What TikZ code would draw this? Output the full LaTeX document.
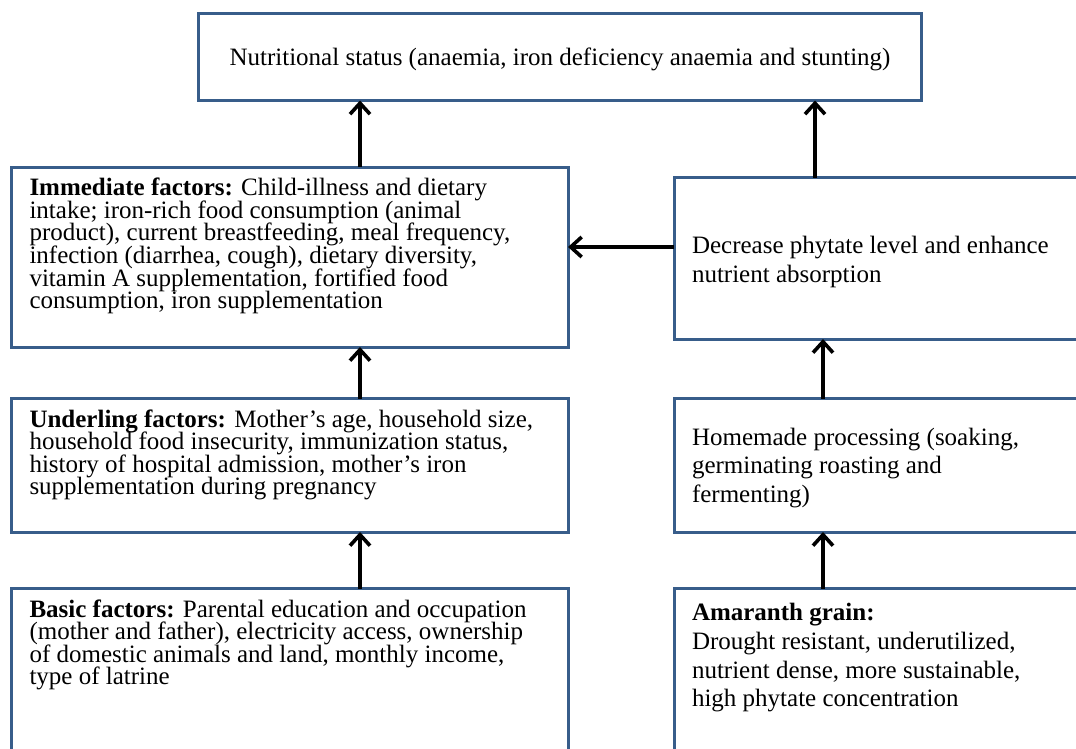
\documentclass[tikz,border=0pt]{standalone}
\usepackage{fontspec}
\setmainfont{Liberation Serif}
\usetikzlibrary{arrows.meta}
\definecolor{boxBlue}{HTML}{385D8A}
\newcommand{\boxtext}[4]{\parbox[c][#2][#1]{#3}{\lineskiplimit=-50pt\raggedright #4}}
\tikzset{
    factorbox/.style={draw=boxBlue,line width=3pt,fill=white,anchor=north west,
        outer sep=0pt,inner xsep=18pt,inner ysep=11pt,
        font=\fontsize{25}{22.6}\selectfont},
    pathbox/.style={factorbox,font=\fontsize{25}{28.7}\selectfont},
    flowarrow/.style={-{Straight Barb[length=11pt,width=20pt]},line width=3.6pt,draw=black}
}

\begin{document}
\begin{tikzpicture}[x=1pt,y=-1pt]
    \useasboundingbox (0,0) rectangle (1076,749);
    \clip (0,0) rectangle (1076,749);
    % outcome
    \node[pathbox,anchor=center,minimum width=723pt,minimum height=86.5pt,
        text height=18pt,text depth=1pt] (status) at (560,57.25)
        {Nutritional status (anaemia, iron deficiency anaemia and stunting)};
    % left column
    \node[factorbox] (immediate) at (11.5,167) {\boxtext{t}{158pt}{520.5pt}{%
        \textbf{Immediate factors:} Child-illness and dietary\\
        intake; iron-rich food consumption (animal\\
        product), current breastfeeding, meal frequency,\\
        infection (diarrhea, cough), dietary diversity,\\
        vitamin A supplementation, fortified food\\
        consumption, iron supplementation}};
    \node[factorbox] (underling) at (11.5,398.5) {\boxtext{t}{111.5pt}{520.5pt}{%
        \textbf{Underling factors:} Mother’s age, household size,\\
        household food insecurity, immunization status,\\
        history of hospital admission, mother’s iron\\
        supplementation during pregnancy}};
    \node[factorbox] (basic) at (11.5,588.5) {\boxtext{t}{189.5pt}{520.5pt}{%
        \textbf{Basic factors:} Parental education and occupation\\
        (mother and father), electricity access, ownership\\
        of domestic animals and land, monthly income,\\
        type of latrine}};
    % right column
    \node[pathbox] (decrease) at (674,177.5) {\boxtext{c}{139.5pt}{390pt}{%
        \vspace*{7pt}Decrease phytate level and enhance\\
        nutrient absorption}};
    \node[pathbox] (homemade) at (674,398.5) {\boxtext{c}{111.5pt}{390pt}{%
        \vspace*{5pt}Homemade processing (soaking,\\
        germinating roasting and\\
        fermenting)}};
    \node[pathbox,inner ysep=15pt] (amaranth) at (674,588.5) {\boxtext{t}{181.5pt}{390pt}{%
        \textbf{Amaranth grain:}\\
        Drought resistant, underutilized,\\
        nutrient dense, more sustainable,\\
        high phytate concentration}};
    % arrows
    \draw[flowarrow] ([xshift=70.25pt]immediate.north) -- ([xshift=70.25pt]immediate.north |- status.south);
    \draw[flowarrow] ([xshift=-72pt]decrease.north) -- ([xshift=-72pt]decrease.north |- status.south);
    \draw[flowarrow] ([yshift=11.25pt]decrease.west) -- ([yshift=11.25pt]decrease.west -| immediate.east);
    \draw[flowarrow] ([xshift=70.25pt]underling.north) -- ([xshift=70.25pt]underling.north |- immediate.south);
    \draw[flowarrow] ([xshift=-64pt]homemade.north) -- ([xshift=-64pt]homemade.north |- decrease.south);
    \draw[flowarrow] ([xshift=70.25pt]basic.north) -- ([xshift=70.25pt]basic.north |- underling.south);
    \draw[flowarrow] ([xshift=-64pt]amaranth.north) -- ([xshift=-64pt]amaranth.north |- homemade.south);
\end{tikzpicture}
\end{document}
